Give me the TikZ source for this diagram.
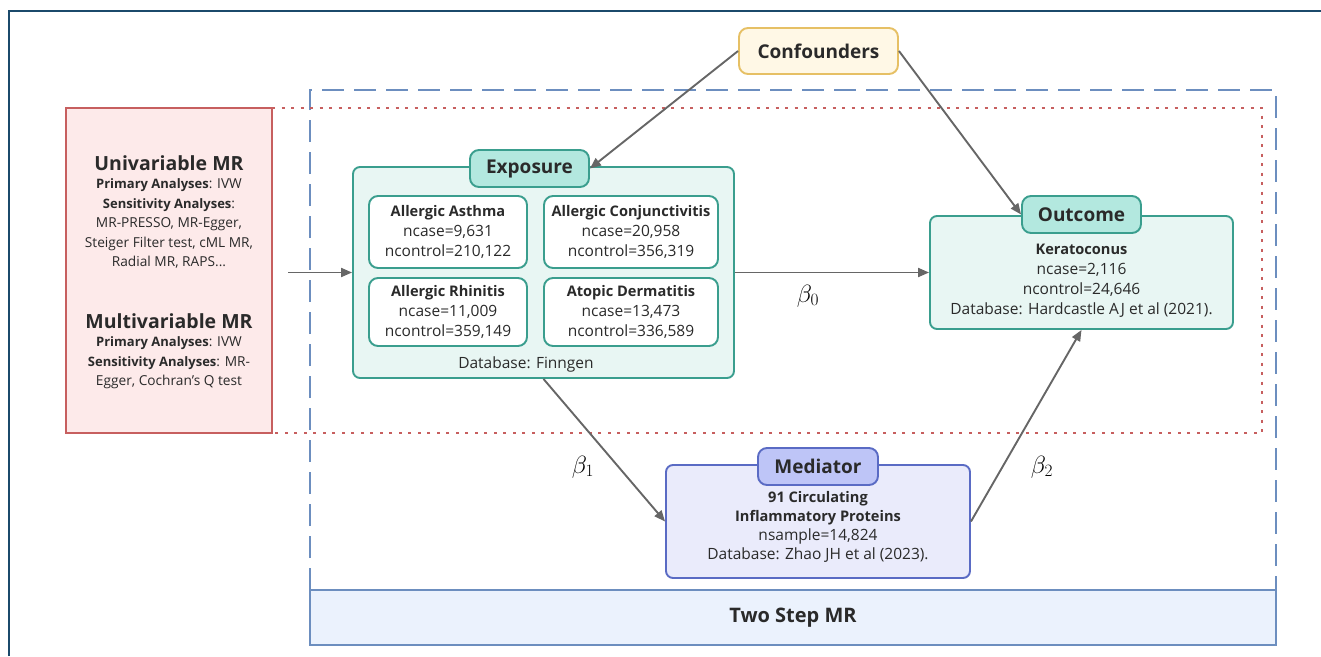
\documentclass[tikz,border=0pt]{standalone}
\usepackage{fontspec}
\setmainfont{Open Sans}
\usetikzlibrary{arrows.meta,positioning}

\definecolor{framec}{HTML}{1B4A6B}
\definecolor{arrowc}{HTML}{666666}
\definecolor{textc}{HTML}{2A2A2A}
\definecolor{tealc}{HTML}{3A9E8E}
\definecolor{tealfill}{HTML}{E8F6F3}
\definecolor{tealtab}{HTML}{B3E8DF}
\definecolor{redc}{HTML}{C75F5F}
\definecolor{redfill}{HTML}{FDEAEA}
\definecolor{bluec}{HTML}{6C8EBF}
\definecolor{bluefill}{HTML}{EBF2FD}
\definecolor{medc}{HTML}{5A6BC4}
\definecolor{medfill}{HTML}{EAEBFB}
\definecolor{medtab}{HTML}{BEC5F7}
\definecolor{confc}{HTML}{E6C065}
\definecolor{conffill}{HTML}{FFF8E6}

\newcommand{\hd}[1]{{\fontsize{14.6}{20}\selectfont\bfseries #1}}
\newcommand{\sub}[1]{{\fontsize{13}{19.5}\selectfont\bfseries #1}}

\tikzset{
  arr/.style={draw=arrowc, line width=1.9pt, -{Triangle[length=11pt,width=9pt]}},
  bigbox/.style={draw=tealc, fill=tealfill, line width=1.9pt, rounded corners=7pt, inner sep=0pt},
  tabbox/.style={draw=tealc, fill=tealtab, line width=1.9pt, rounded corners=9pt, inner sep=0pt,
    minimum width=119pt, minimum height=37pt, text=textc, font=\fontsize{19}{20}\selectfont\bfseries},
  smallbox/.style={draw=tealc, fill=white, line width=1.9pt, rounded corners=9pt, inner sep=0pt,
    minimum height=70pt, align=center, text=textc, font=\fontsize{15.5}{20}\selectfont},
  body/.style={align=center, text=textc, font=\fontsize{15.5}{20}\selectfont},
  leftbody/.style={align=center, text=textc, font=\fontsize{13.7}{19.5}\selectfont},
  beta/.style={font=\fontsize{26}{26}\selectfont}
}

\begin{document}
\begin{tikzpicture}[x=1pt,y=-1pt]
\useasboundingbox (0,0) rectangle (1321,656);

% outer frame
\draw[framec, line width=2.5pt] (9,656) -- (9,11) -- (1321,11);

% two step MR region
\draw[bluec, line width=2pt, dash pattern=on 22pt off 10pt] (310,590) -- (310,90) -- (1276,90) -- (1276,590);
\node[draw=bluec, fill=bluefill, line width=2pt, minimum width=966pt, minimum height=55pt,
  inner sep=0pt, text=textc, font=\fontsize{20}{20}\selectfont\bfseries] (twostep) at (793,617.5) {Two Step MR};

% MR region
\draw[redc, line width=1.6pt, dash pattern=on 3pt off 6.5pt] (272,108) -- (1262,108) -- (1262,433) -- (272,433);
\node[draw=redc, fill=redfill, line width=2pt, minimum width=206pt, minimum height=325pt, inner sep=0pt] (mr) at (169,270.5) {};
\node[leftbody] (uni) at (169,212)
  {{\fontsize{19.5}{22}\selectfont\bfseries Univariable MR}\\[-1pt]
   \sub{Primary Analyses}: IVW\\
   \sub{Sensitivity Analyses}:\\
   MR-PRESSO, MR-Egger,\\
   Steiger Filter test, cML MR,\\
   Radial MR, RAPS...};
\node[leftbody] (multi) at (169,351)
  {{\fontsize{19.5}{22}\selectfont\bfseries Multivariable MR}\\[-1pt]
   \sub{Primary Analyses}: IVW\\
   \sub{Sensitivity Analyses}: MR-\\
   Egger, Cochran's Q test};
\coordinate (mrout) at (288,272.5);

% confounders
\node[draw=confc, fill=conffill, line width=1.9pt, rounded corners=9pt, minimum width=159pt, minimum height=46pt,
  inner sep=0pt, text=textc, font=\fontsize{19}{20}\selectfont\bfseries] (conf) at (818.5,51) {Confounders};

% exposure
\node[bigbox, minimum width=381pt, minimum height=211pt] (exposure) at (543.5,272.5) {};
\node[tabbox] (exptab) at (529.5,168.5) {Exposure};
\node[smallbox, minimum width=158pt, minimum height=72pt] (asthma) at (448,232)
  {\hd{Allergic Asthma}\\ncase=9,631\\ncontrol=210,122};
\node[smallbox, minimum width=174pt, minimum height=72pt] (conj) at (631,232)
  {\hd{Allergic Conjunctivitis}\\ncase=20,958\\ncontrol=356,319};
\node[smallbox, minimum width=158pt, minimum height=68pt] (rhin) at (448,312)
  {\hd{Allergic Rhinitis}\\ncase=11,009\\ncontrol=359,149};
\node[smallbox, minimum width=174pt, minimum height=68pt] (derm) at (631,312)
  {\hd{Atopic Dermatitis}\\ncase=13,473\\ncontrol=336,589};
\node[body] (finngen) at (526,364) {Database: Finngen};

% outcome
\node[bigbox, minimum width=303pt, minimum height=113pt] (outcome) at (1081.5,272.5) {};
\node[tabbox] (outtab) at (1081.5,214.5) {Outcome};
\node[body] (outtext) at (1081.5,280.5)
  {\hd{Keratoconus}\\ncase=2,116\\ncontrol=24,646\\Database: Hardcastle AJ et al (2021).};

% mediator
\node[bigbox, draw=medc, fill=medfill, minimum width=304pt, minimum height=113pt] (mediator) at (818,521.5) {};
\node[tabbox, draw=medc, fill=medtab, minimum width=120pt] (medtab) at (818,466.5) {Mediator};
\node[body, font=\fontsize{15.5}{19}\selectfont] (medtext) at (818,526.5)
  {\hd{91 Circulating}\\\hd{Inflammatory Proteins}\\nsample=14,824\\Database: Zhao JH et al (2023).};

% arrows
\draw[arr] (mrout) -- (exposure.west);
\draw[arr] (conf.west) -- (exptab.east);
\draw[arr] (conf.east) -- (outtab.west);
\draw[arr] (exposure.east) -- (outcome.west);
\draw[arr] (exposure.south) -- (mediator.west);
\draw[arr] (mediator.east) -- (outcome.south);

\node[beta] (b0) at (808,296) {$\beta_0$};
\node[beta] (b1) at (583,467) {$\beta_1$};
\node[beta] (b2) at (1042,467) {$\beta_2$};
\end{tikzpicture}
\end{document}
